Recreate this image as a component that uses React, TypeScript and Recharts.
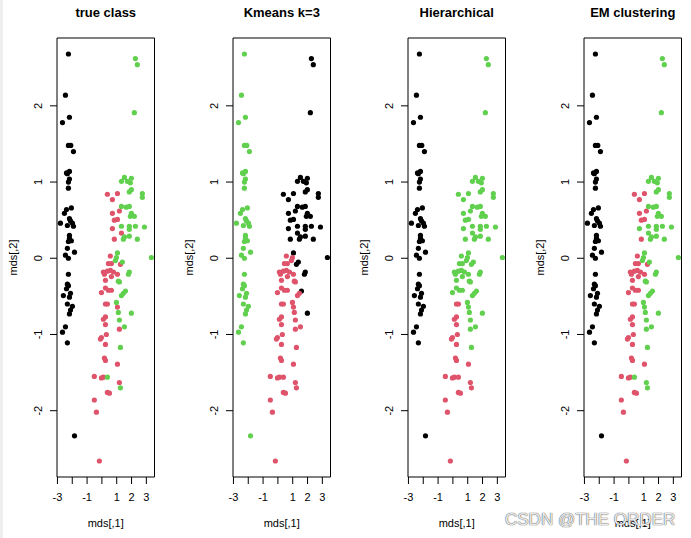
import { ReferenceArea, Scatter, ScatterChart, XAxis, YAxis } from "recharts";

// MDS coordinates of the 150-ish points
const mdsX = [
  -2.26, -2.46, -2.19, -2.66, -2.26, -2.1, -1.92, -2.19, -2.39, -2.33, -2.19, -2.26, -2.26,
  -2.06, -2.39, -2.53, -2.19, -2.12, -2.8, -2.33, -1.92, -1.99, -2.19, -2.19, -2.06, -2.26,
  -2.33, -1.85, -2.46, -2.26, -2.26, -2.33, -2.26, -2.39, -2.12, -2.6, -2.19, -2.33, -1.99,
  -2.12, -2.19, -2.46, -2.66, -2.33, -1.85,
  0.37, 1.05, 0.71, 0.71, 1.18, 0.84, 1.05, 0.84, 0.71, 1.32, 0.57, 1.25, 0.44, 0.64, 0.1,
  0.37, 0.57, 0.78, 0.17, 0.64, 1.05, 0.24, 0.24, 0.44, 0.64, -0.03, 0.24, 0.37, 1.05, 0.24,
  0.1, 0.24, 1.18, 0.3, -0.03, -0.1, 0.24, 0.17, 0.24, 1.05, -0.51, 0.1, -0.03, 1.18, 0.37,
  0.51, -0.51, -0.37, -0.17,
  2.26, 2.39, 2.19, 1.52, 1.32, 1.72, 1.99, 1.92, 1.99, 1.85, 2.73, 2.73, 1.32, 1.65, 1.85,
  1.99, 2.19, 1.92, 1.32, 1.85, 1.85, 2.26, 2.87, 1.85, 1.45, 2.39, 1.52, 1.05, 0.98, 0.91,
  1.38, 3.34, 1.85, 1.79, 1.11, 1.18, 1.59, 1.45, 1.32, 0.98, 1.11, 1.99, 1.18, 1.52, 1.25,
  0.37, 1.25,
];
const mdsY = [
  2.68, 2.14, 1.85, 1.78, 1.48, 1.48, 1.4, 1.14, 1.12, 1.11, 1.04, 1.0, 0.92,
  0.66, 0.64, 0.59, 0.52, 0.49, 0.46, 0.43, 0.42, 0.46, 0.3, 0.26, 0.23, 0.22,
  0.13, 0.08, 0.04, 0.0, -0.21, -0.34, -0.36, -0.4, -0.46, -0.49, -0.51, -0.6, -0.63,
  -0.68, -0.73, -0.9, -0.97, -1.11, -2.33,
  0.84, 0.85, 0.77, 0.59, 0.62, 0.5, 0.51, 0.25, 0.39, 0.33, 0.03, -0.08, -0.07, -0.07, -0.18,
  -0.17, -0.16, -0.18, -0.21, -0.24, -0.21, -0.29, -0.39, -0.42, -0.42, -0.45, -0.6, -0.6, -0.64, -0.77,
  -0.8, -0.87, -0.93, -1.0, -1.04, -1.06, -1.13, -1.31, -1.34, -1.39, -1.55, -1.56, -1.57, -1.63, -1.76,
  -1.77, -1.86, -2.02, -2.66,
  2.62, 2.54, 1.91, 1.06, 1.01, 1.01, 1.05, 0.99, 0.9, 0.87, 0.85, 0.8, 0.68, 0.67, 0.68,
  0.59, 0.55, 0.55, 0.42, 0.42, 0.38, 0.42, 0.41, 0.29, 0.25, 0.25, 0.28, 0.07, 0.01, -0.03,
  -0.05, 0.01, -0.18, -0.21, -0.3, -0.31, -0.43, -0.46, -0.49, -0.58, -0.71, -0.72, -0.81, -0.9, -1.17,
  -1.56, -1.7,
];

// cluster labels, R palette index: 1 black, 2 red, 3 green
const trueClass = [
  ...Array(45).fill(1),
  ...Array(49).fill(2),
  ...Array(47).fill(3),
];
const kmeansClass = [
  ...Array(45).fill(3),
  1, 1, 1, 1, 1, 1, 1, 1, 1, 1, 2, 1, 2, 2, 2,
  2, 2, 2, 2, 2, 2, 2, 2, 2, 2, 2, 2, 2, 2, 2,
  2, 2, 2, 2, 2, 2, 2, 2, 2, 2, 2, 2, 2, 2, 2,
  2, 2, 2, 2,
  1, 1, 1, 1, 1, 1, 1, 1, 1, 1, 1, 1, 1, 1, 1,
  1, 1, 1, 1, 1, 1, 1, 1, 1, 1, 1, 1, 1, 2, 2,
  1, 1, 1, 1, 2, 2, 1, 2, 2, 2, 2, 1, 2, 2, 2,
  2, 2,
];
const hierClass = [
  ...Array(45).fill(1),
  3, 3, 3, 3, 3, 3, 3, 3, 3, 3, 3, 3, 3, 3, 3,
  3, 3, 3, 3, 3, 3, 3, 3, 3, 3, 3, 2, 2, 3, 2,
  2, 2, 3, 2, 2, 2, 2, 2, 2, 2, 2, 2, 2, 2, 2,
  2, 2, 2, 2,
  ...Array(45).fill(3),
  2, 2,
];
const emClass = [
  ...Array(45).fill(1),
  2, 2, 2, 2, 2, 2, 2, 2, 3, 3, 2, 2, 2, 2, 2,
  2, 2, 2, 2, 2, 2, 2, 2, 2, 2, 2, 2, 2, 3, 2,
  2, 2, 3, 2, 2, 2, 2, 2, 2, 2, 2, 2, 2, 3, 2,
  2, 2, 2, 2,
  ...Array(47).fill(3),
];

const panelTitles = ["true class", "Kmeans k=3", "Hierarchical", "EM clustering"];
const panelLabels = [trueClass, kmeansClass, hierClass, emClass];

const xTicks = [-3, -2, -1, 0, 1, 2, 3];
const xTickLabels = ["-3", "", "-1", "", "1", "2", "3"];
const yTicks = [-2, -1, 0, 1, 2];

const palette: Record<number, string> = { 1: "#000000", 2: "#DF536B", 3: "#61D04F" };
const xDomain = [-3.03, 3.55];
const yDomain = [-2.87, 2.89];

const font = "Arial, 'Liberation Sans', sans-serif";

const Dot = (props: any) => {
  const { cx, cy, payload } = props;
  if (cx == null || cy == null) return null;
  return <circle cx={cx} cy={cy} r={2.6} fill={palette[payload.cls]} />;
};

const YTick = (props: any) => {
  const { x, y, payload } = props;
  const tx = x - 12;
  return (
    <text
      x={tx}
      y={y}
      transform={`rotate(-90 ${tx} ${y})`}
      textAnchor="middle"
      dominantBaseline="central"
      fontSize={11}
      fill="#000"
    >
      {payload.value}
    </text>
  );
};

const Panel = ({ title, labels, left }: { title: string; labels: number[]; left: number }) => {
  const data = mdsX.map((x, i) => ({ x, y: mdsY[i], cls: labels[i] }));
  return (
    <div style={{ position: "absolute", left, top: 0, width: 176, height: 538 }}>
      <div
        style={{
          position: "absolute",
          left: 57,
          width: 97.5,
          top: 5,
          textAlign: "center",
          fontWeight: "bold",
          fontSize: 13,
          whiteSpace: "nowrap",
          color: "#000",
        }}
      >
        {title}
      </div>
      <ScatterChart width={176} height={538} margin={{ top: 38, right: 21.5, left: 0, bottom: 0 }}>
        <XAxis
          type="number"
          dataKey="x"
          domain={xDomain}
          allowDataOverflow
          ticks={xTicks}
          tickFormatter={(v: number) => xTickLabels[xTicks.indexOf(v)] ?? ""}
          interval={0}
          axisLine={false}
          tickLine={{ stroke: "#000" }}
          tickSize={7}
          tickMargin={9}
          tick={{ fill: "#000", fontSize: 11 }}
          height={61}
          label={{
            content: (p: any) => (
              <text
                x={p.viewBox.x + p.viewBox.width / 2}
                y={p.viewBox.y + 46}
                textAnchor="middle"
                dominantBaseline="central"
                fontSize={11}
                fill="#000"
              >
                mds[,1]
              </text>
            ),
          }}
        />
        <YAxis
          type="number"
          dataKey="y"
          domain={yDomain}
          allowDataOverflow
          ticks={yTicks}
          interval={0}
          axisLine={false}
          tickLine={{ stroke: "#000" }}
          tickSize={7}
          tickMargin={0}
          tick={<YTick />}
          width={57}
          label={{
            content: (p: any) => {
              const lx = p.viewBox.x + 13;
              const ly = p.viewBox.y + p.viewBox.height / 2;
              return (
                <text
                  x={lx}
                  y={ly}
                  transform={`rotate(-90 ${lx} ${ly})`}
                  textAnchor="middle"
                  dominantBaseline="central"
                  fontSize={11}
                  fill="#000"
                >
                  mds[,2]
                </text>
              );
            },
          }}
        />
        <Scatter data={data} shape={<Dot />} isAnimationActive={false} />
        <ReferenceArea
          x1={xDomain[0]}
          x2={xDomain[1]}
          y1={yDomain[0]}
          y2={yDomain[1]}
          fill="none"
          stroke="#000"
          strokeWidth={1}
          ifOverflow="visible"
        />
      </ScatterChart>
    </div>
  );
};

export default function App() {
  return (
    <div
      style={{
        position: "absolute",
        left: 0,
        top: 0,
        width: 691,
        height: 538,
        background: "#fff",
        fontFamily: font,
        overflow: "hidden",
      }}
    >
      <div style={{ position: "absolute", left: 0, top: 0, width: 3, height: 538, background: "#eeeeee" }} />
      {panelTitles.map((t, i) => (
        <Panel key={t} title={t} labels={panelLabels[i]} left={Math.round(i * 175.67)} />
      ))}
      <div
        style={{
          position: "absolute",
          left: 505,
          top: 510,
          fontSize: 17,
          color: "rgba(255,255,255,0.9)",
          textShadow: "0 0 1px #555, 0 0 1px #555",
          whiteSpace: "nowrap",
        }}
      >
        CSDN @THE ORDER
      </div>
    </div>
  );
}
